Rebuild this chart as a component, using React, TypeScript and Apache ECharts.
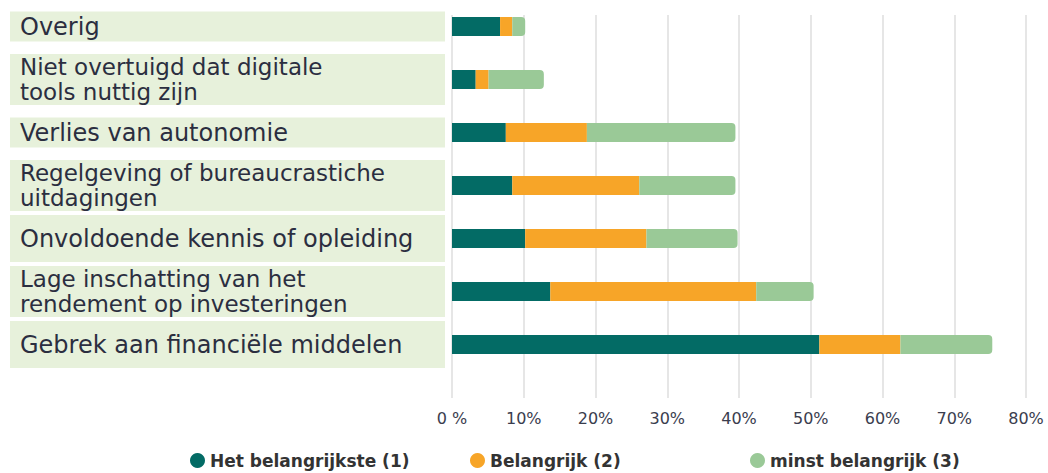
import React, { useEffect, useRef } from "react";
import * as echarts from "echarts";

const categories = [
  "Overig",
  "Niet overtuigd dat digitale\ntools nuttig zijn",
  "Verlies van autonomie",
  "Regelgeving of bureaucrastiche\nuitdagingen",
  "Onvoldoende kennis of opleiding",
  "Lage inschatting van het\nrendement op investeringen",
  "Gebrek aan financiële middelen",
];
const mostImportant = [6.7, 3.3, 7.5, 8.4, 10.2, 13.7, 51.2];
const important = [1.7, 1.8, 11.3, 17.7, 16.9, 28.7, 11.3];
const leastImportant = [1.8, 7.7, 20.7, 13.4, 12.7, 8.0, 12.8];
const seriesNames = ["Het belangrijkste (1)", "Belangrijk (2)", "minst belangrijk (3)"];
const xTickValues = [0, 10, 20, 30, 40, 50, 60, 70, 80];

const COLORS = ["#036B65", "#F7A528", "#9AC997"];
const TEXT = "#2B2E40";

export default function App() {
  const ref = useRef<HTMLDivElement>(null);
  useEffect(() => {
    if (!ref.current) return;
    const chart = echarts.init(ref.current, undefined, { renderer: "svg" });
    const labelFont = "'DejaVu Sans', sans-serif";
    const styleKey = (v: string, i: number) => {
      const two = v.indexOf("\n") >= 0;
      if (i >= 4) return two ? "t" : "T";
      return two ? "d" : "s";
    };
    const richBase = { fontSize: 24, fontFamily: labelFont, color: TEXT };
    const legendCommon = {
      icon: "circle",
      itemWidth: 15,
      itemHeight: 15,
      itemGap: 0,
      padding: 0,
      top: 452,
      textStyle: { fontSize: 17, fontWeight: "bold", color: "#333", fontFamily: labelFont },
    };
    chart.setOption({
      animation: false,
      color: COLORS,
      grid: [
        { left: 452, right: 22, top: 0, height: 371 },
        { left: 452, right: 22, top: 15, height: 383 },
      ],
      legend: [
        { ...legendCommon, left: 190, data: [seriesNames[0]] },
        { ...legendCommon, left: 470, data: [seriesNames[1]] },
        { ...legendCommon, left: 750, data: [seriesNames[2]] },
      ],
      xAxis: [
        {
          type: "value",
          gridIndex: 0,
          min: 0,
          max: 80,
          interval: 10,
          axisLabel: { show: false },
          axisLine: { show: false },
          axisTick: { show: false },
          splitLine: { show: false },
        },
        {
          type: "value",
          gridIndex: 1,
          min: xTickValues[0],
          max: xTickValues[xTickValues.length - 1],
          interval: 10,
          axisLine: { show: false },
          axisTick: { show: false },
          splitLine: { show: true, lineStyle: { color: "#E6E6E6", width: 2 } },
          axisLabel: {
            margin: 12,
            fontSize: 16,
            color: "#3a3d4e",
            fontFamily: labelFont,
            formatter: (v: number) => (v === 0 ? "0 %" : v + "%"),
          },
        },
      ],
      yAxis: [
        {
          type: "category",
          gridIndex: 0,
          inverse: true,
          data: categories,
          axisLine: { show: false },
          axisTick: { show: false },
          axisLabel: {
            interval: 0,
            margin: 442,
            align: "left",
            backgroundColor: "#E7F1DB",
            width: 425,
            padding: [0, 0, 0, 10],
            formatter: (v: string, i: number) => `{${styleKey(v, i)}|${v}}`,
            rich: {
              s: { ...richBase, lineHeight: 30 },
              d: { ...richBase, fontSize: 23, lineHeight: 25.5 },
              t: { ...richBase, fontSize: 23, lineHeight: 25.5 },
              T: { ...richBase, lineHeight: 47 },
            },
          },
        },
        { type: "value", gridIndex: 1, show: false },
      ],
      series: [
        {
          name: seriesNames[0],
          type: "bar",
          stack: "total",
          barWidth: 19,
          data: mostImportant,
          xAxisIndex: 0,
          yAxisIndex: 0,
        },
        {
          name: seriesNames[1],
          type: "bar",
          stack: "total",
          barWidth: 19,
          data: important,
          xAxisIndex: 0,
          yAxisIndex: 0,
        },
        {
          name: seriesNames[2],
          type: "bar",
          stack: "total",
          barWidth: 19,
          data: leastImportant,
          xAxisIndex: 0,
          yAxisIndex: 0,
          itemStyle: { borderRadius: [0, 4, 4, 0] },
        },
      ],
    });
    return () => chart.dispose();
  }, []);
  return <div ref={ref} style={{ width: 1048, height: 473, position: "absolute", left: 0, top: 0 }} />;
}
